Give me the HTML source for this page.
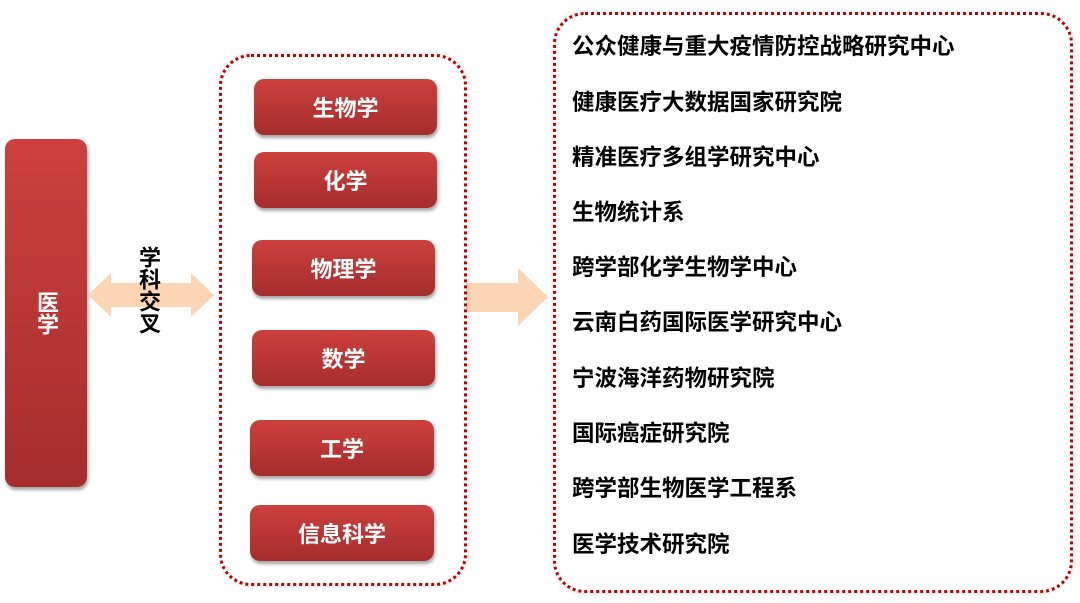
<!DOCTYPE html>
<html><head><meta charset="utf-8"><style>
body{margin:0;width:1080px;height:603px;background:#fff;position:relative;overflow:hidden;font-family:"Liberation Sans","Noto Sans CJK SC",sans-serif;font-weight:bold}
.b{position:absolute;background:linear-gradient(#cd403d,#a52d2d);border-radius:10px;color:#fff;display:flex;align-items:center;justify-content:center;font-size:22px;box-shadow:1px 3px 3px rgba(0,0,0,.35)}
.d{position:absolute;border:3px dotted #c00000;border-radius:32px;box-shadow:0 0 4px rgba(0,0,0,.15)}
.t{position:absolute;left:572px;font-size:22.5px;color:#000;line-height:26px}
</style></head><body>
<div class="b" style="left:5px;top:139px;width:82px;height:348px;writing-mode:vertical-rl;font-size:22px">医学</div>
<svg style="position:absolute;left:0;top:0" width="1080" height="603">
<polygon points="88,295 111,273 111,283 191,283 191,273 214,295 191,317 191,307 111,307 111,317" fill="#fbd5b4"/>
<polygon points="466,283 518,283 518,268 548,297 518,326 518,312 466,312" fill="#fbd5b4"/>
</svg>
<div style="position:absolute;left:136px;top:246px;font-size:22px;writing-mode:vertical-rl;line-height:24px;color:#000">学科交叉</div>
<div class="d" style="left:219px;top:54px;width:242px;height:526px"></div>
<div class="d" style="left:553px;top:12px;width:514px;height:575px"></div>
<div class="b" style="left:254px;top:79px;width:183px;height:56px">生物学</div>
<div class="b" style="left:254px;top:152px;width:183px;height:56px">化学</div>
<div class="b" style="left:252px;top:240px;width:183px;height:56px">物理学</div>
<div class="b" style="left:252px;top:330px;width:183px;height:56px">数学</div>
<div class="b" style="left:250px;top:420px;width:184px;height:56px">工学</div>
<div class="b" style="left:250px;top:505px;width:184px;height:56px">信息科学</div>
<div class="t" style="top:34px">公众健康与重大疫情防控战略研究中心</div>
<div class="t" style="top:90px">健康医疗大数据国家研究院</div>
<div class="t" style="top:145px">精准医疗多组学研究中心</div>
<div class="t" style="top:200px">生物统计系</div>
<div class="t" style="top:255px">跨学部化学生物学中心</div>
<div class="t" style="top:310px">云南白药国际医学研究中心</div>
<div class="t" style="top:366px">宁波海洋药物研究院</div>
<div class="t" style="top:421px">国际癌症研究院</div>
<div class="t" style="top:476px">跨学部生物医学工程系</div>
<div class="t" style="top:532px">医学技术研究院</div>
</body></html>
